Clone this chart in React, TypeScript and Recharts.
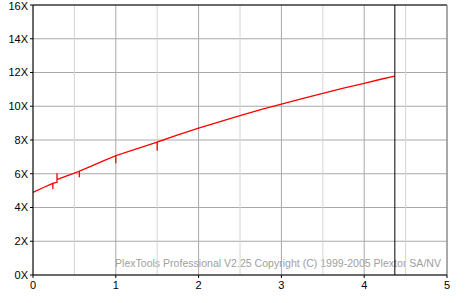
import { LineChart, Line, XAxis, YAxis, CartesianGrid, ReferenceLine } from 'recharts';

// read speed (X) against disc position (GB); repeated positions are the short spikes
const positions = [
  0, 0.12, 0.24, 0.24, 0.24, 0.29, 0.29, 0.29, 0.4, 0.5, 0.56, 0.56, 0.56, 0.69, 0.85,
  1.0, 1.0, 1.0, 1.25, 1.5, 1.5, 1.5, 1.75, 2.0, 2.25, 2.5, 2.75, 3.0, 3.25, 3.5, 3.75,
  4.0, 4.2, 4.37,
];
const speeds = [
  4.9, 5.17, 5.43, 5.1, 5.43, 5.49, 6.03, 5.65, 5.86, 6.04, 6.15, 5.79, 6.15, 6.42, 6.76,
  7.07, 6.62, 7.07, 7.48, 7.88, 7.37, 7.88, 8.3, 8.7, 9.08, 9.45, 9.8, 10.12, 10.45, 10.77, 11.07,
  11.36, 11.6, 11.79,
];
const discEnd = 4.37;

const xTicks = [0, 1, 2, 3, 4, 5];
const xHalfTicks = [0.5, 1.5, 2.5, 3.5, 4.5];
const yTicks = [0, 2, 4, 6, 8, 10, 12, 14, 16];
const footer = 'PlexTools Professional V2.25 Copyright (C) 1999-2005 Plextor SA/NV';

const data = positions.map((pos, i) => ({ pos, speed: speeds[i] }));

const tickStyle = { fontSize: 11, fontFamily: 'Liberation Sans, Arial, sans-serif', fill: '#000' };

export default function App() {
  return (
    <div style={{ position: 'fixed', left: 0, top: 0, width: 476, height: 303, background: '#fff' }}>
      <svg width={476} height={303} style={{ position: 'absolute', left: 0, top: 0 }}>
        <text
          x={115}
          y={267}
          textLength={326}
          lengthAdjust="spacingAndGlyphs"
          fill="#a0a0a0"
          fontSize={11}
          fontFamily="Liberation Sans, Arial, sans-serif"
        >
          {footer}
        </text>
      </svg>
      <div style={{ position: 'absolute', left: 0, top: 0 }}>
        <LineChart width={476} height={303} data={data} margin={{ top: 5, right: 29, left: 0, bottom: 0 }}>
          <CartesianGrid stroke="#a8a8a8" />
          {xHalfTicks.map((x) => (
            <ReferenceLine key={`half-${x}`} x={x} stroke="#d4d4d4" />
          ))}
          <XAxis
            dataKey="pos"
            type="number"
            domain={[0, 5]}
            ticks={xTicks}
            height={28}
            tickSize={3}
            tickMargin={3}
            stroke="#000"
            tick={tickStyle}
          />
          <YAxis
            type="number"
            domain={[0, 16]}
            ticks={yTicks}
            width={33}
            tickSize={3}
            tickMargin={2}
            stroke="#000"
            tick={tickStyle}
            tickFormatter={(v) => `${v}X`}
          />
          <ReferenceLine y={16} stroke="#000" />
          <ReferenceLine x={5} stroke="#808080" />
          <Line
            type="linear"
            dataKey="speed"
            stroke="#ff0000"
            strokeWidth={1.3}
            dot={false}
            isAnimationActive={false}
          />
          <ReferenceLine x={discEnd} stroke="#000" />
        </LineChart>
      </div>
    </div>
  );
}
